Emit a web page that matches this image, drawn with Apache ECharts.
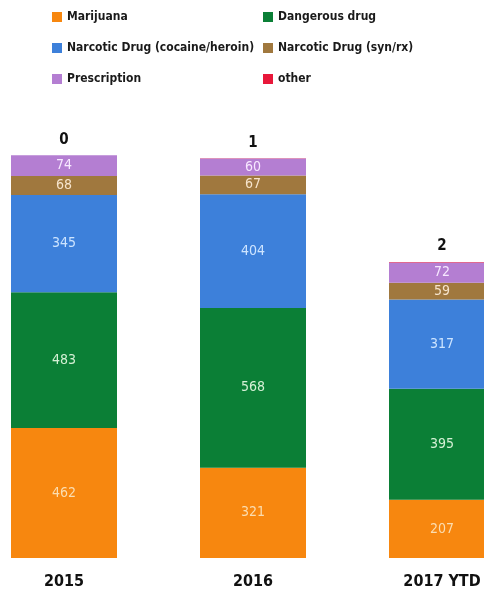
<!DOCTYPE html>
<html><head><meta charset="utf-8">
<script src="https://cdn.jsdelivr.net/npm/echarts@6/dist/echarts.min.js"></script>
<style>html,body{margin:0;padding:0;background:#fff}#c{width:484px;height:598px}</style>
</head><body><div id="c"></div>
<script>
const categories = ['2015', '2016', '2017 YTD'];
const marijuana = [462, 321, 207];
const dangerous = [483, 568, 395];
const narcoticCoke = [345, 404, 317];
const narcoticSyn = [68, 67, 59];
const prescription = [74, 60, 72];
const other = [0, 1, 2];

const FONT = "'Liberation Sans Narrow', 'DejaVu Sans Condensed', sans-serif";
function seg(name, data, color, labelColor) {
  return {
    name, type: 'bar', stack: 'total', data, barWidth: 106, clip: false,
    itemStyle: { color },
    label: { show: true, position: 'inside', color: labelColor, fontFamily: FONT, fontSize: 14 }
  };
}
const chart = echarts.init(document.getElementById('c'));
const legendText = { fontFamily: FONT, fontSize: 12, fontWeight: 'bold', color: '#1a1a1a' };
chart.setOption({
  animation: false,
  legend: [
    { data: ['Marijuana', 'Narcotic Drug (cocaine/heroin)', 'Prescription'], orient: 'vertical', left: 47, top: 6,
      itemWidth: 10, itemHeight: 10, itemGap: 19, textStyle: legendText, icon: 'rect' },
    { data: ['Dangerous drug', 'Narcotic Drug (syn/rx)', 'other'], orient: 'vertical', left: 258, top: 6,
      itemWidth: 10, itemHeight: 10, itemGap: 19, textStyle: legendText, icon: 'rect' }
  ],
  grid: { left: 64, right: 42, top: 136, bottom: 40 },
  xAxis: {
    type: 'category', data: categories, boundaryGap: false,
    axisLine: { show: false }, axisTick: { show: false },
    axisLabel: { fontFamily: FONT, fontSize: 16, fontWeight: 'bold', color: '#111', margin: 16 }
  },
  yAxis: { type: 'value', min: 0, max: 1500, show: false, splitLine: { show: false } },
  series: [
    seg('Marijuana', marijuana, '#F7870F', '#FBDDB0'),
    seg('Dangerous drug', dangerous, '#0B7F36', '#D5F0D5'),
    seg('Narcotic Drug (cocaine/heroin)', narcoticCoke, '#3D80DA', '#CDE4FF'),
    seg('Narcotic Drug (syn/rx)', narcoticSyn, '#A0783E', '#F6E4CC'),
    seg('Prescription', prescription, '#B47ED2', '#F7E8FF'),
    {
      name: 'other', type: 'bar', stack: 'total', data: other, barWidth: 106, clip: false,
      itemStyle: { color: '#E8173A' },
      label: { show: true, position: 'top', distance: 8, color: '#111', fontFamily: FONT, fontSize: 15, fontWeight: 'bold' }
    }
  ]
});
</script></body></html>
